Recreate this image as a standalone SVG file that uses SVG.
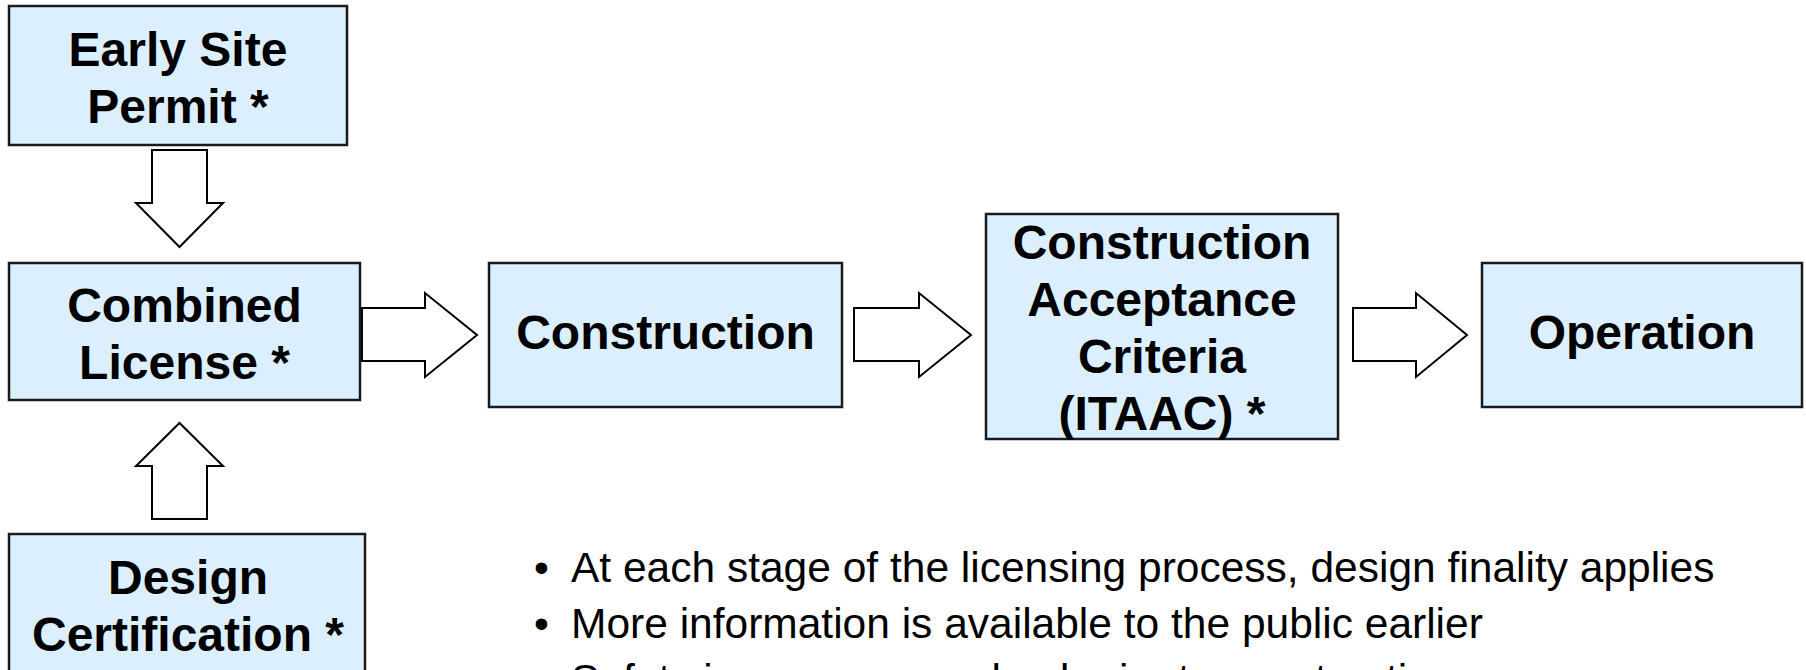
<svg xmlns="http://www.w3.org/2000/svg" width="1806" height="670" viewBox="0 0 1806 670">
  <style>
    .box { fill: #DBEFFE; stroke: #1a1a1a; stroke-width: 2.5; }
    .lbl { font-family: "Liberation Sans", Arial, sans-serif; font-weight: bold; font-size: 48px; fill: #000; text-anchor: middle; }
    .arrow { fill: #ffffff; stroke: #000; stroke-width: 2; stroke-linejoin: miter; }
    .bullet { font-family: "Liberation Sans", Arial, sans-serif; font-size: 42.5px; fill: #000; }
  </style>
  <rect width="1806" height="670" fill="#ffffff"/>

  <g id="connectors">
    <polygon class="arrow" points="152,150 207,150 207,203 223,203 179.5,247 136,203 152,203"/>
    <polygon class="arrow" points="152,519 207,519 207,466 223,466 179.5,423 136,466 152,466"/>
    <polygon class="arrow" points="362,308 425,308 425,293 477,335 425,377 425,361 362,361"/>
    <polygon class="arrow" points="854,308 919,308 919,293 971,335 919,377 919,361 854,361"/>
    <polygon class="arrow" points="1353,308 1416,308 1416,293 1467,335 1416,377 1416,361 1353,361"/>
  </g>

  <g id="node-esp">
    <rect class="box" x="9" y="6" width="338" height="139"/>
    <text class="lbl" x="178" y="66">Early Site</text>
    <text class="lbl" x="178" y="123">Permit *</text>
  </g>

  <g id="node-col">
    <rect class="box" x="9" y="263" width="351" height="137"/>
    <text class="lbl" x="184.5" y="322">Combined</text>
    <text class="lbl" x="184.5" y="379">License *</text>
  </g>

  <g id="node-dc">
    <rect class="box" x="9" y="534" width="356" height="150"/>
    <text class="lbl" x="188" y="594">Design</text>
    <text class="lbl" x="188" y="651">Certification *</text>
  </g>

  <g id="node-construction">
    <rect class="box" x="489" y="263" width="353" height="144"/>
    <text class="lbl" x="665.5" y="349">Construction</text>
  </g>

  <g id="node-itaac">
    <rect class="box" x="986" y="214" width="352" height="225"/>
    <text class="lbl" x="1162" y="259">Construction</text>
    <text class="lbl" x="1162" y="316">Acceptance</text>
    <text class="lbl" x="1162" y="373">Criteria</text>
    <text class="lbl" x="1162" y="430">(ITAAC) *</text>
  </g>

  <g id="node-operation">
    <rect class="box" x="1482" y="263" width="320" height="144"/>
    <text class="lbl" x="1642" y="349">Operation</text>
  </g>

  <g id="notes">
    <text class="bullet" x="534" y="582">•</text>
    <text class="bullet" x="571" y="582">At each stage of the licensing process, design finality applies</text>
    <text class="bullet" x="534" y="638">•</text>
    <text class="bullet" x="571" y="638">More information is available to the public earlier</text>
    <text class="bullet" x="534" y="694">•</text>
    <text class="bullet" x="571" y="694">Safety issues are resolved prior to construction</text>
  </g>
</svg>
